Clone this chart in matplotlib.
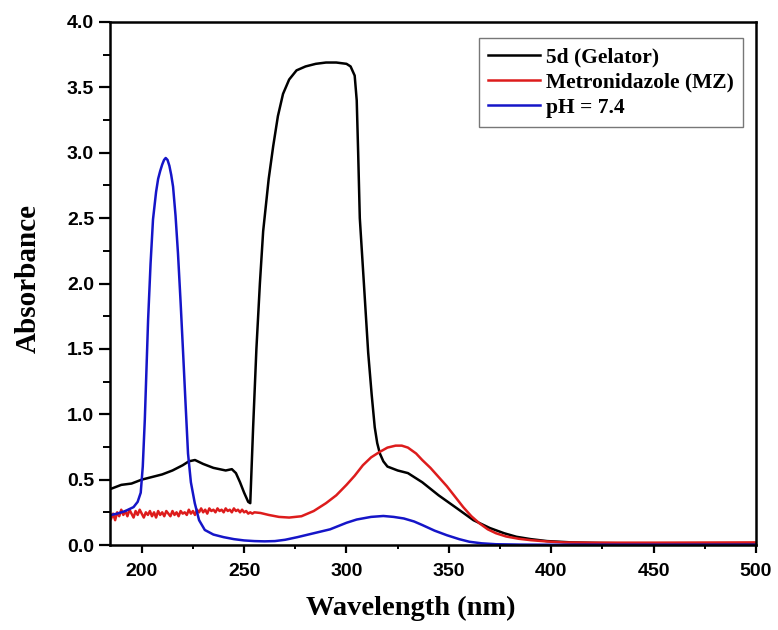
import numpy as np
import matplotlib
matplotlib.use('Agg')
import matplotlib.pyplot as plt
from matplotlib.ticker import MultipleLocator, FormatStrFormatter

# 5d (Gelator)
gel_wl = [185, 190, 195, 200, 205, 210, 215, 220, 223, 226, 230, 235, 238, 241, 244, 246, 248, 250, 252, 253,
          254.4, 256, 257.7, 259.3, 262, 264.2, 266.5, 269, 272, 275.6, 280, 285, 290, 295, 300, 302, 304, 305,
          305.7, 306.5, 308.5, 310.6, 312.3, 313.8, 315, 316.3, 318, 320, 325, 330, 337, 345, 354, 362, 370, 377,
          383, 390, 398, 410, 425, 450, 475, 500]
gel_abs = [0.43, 0.46, 0.47, 0.50, 0.52, 0.54, 0.57, 0.61, 0.64, 0.65, 0.62, 0.59, 0.58, 0.57, 0.58, 0.55, 0.48, 0.40, 0.33, 0.32,
           0.90, 1.50, 2.00, 2.40, 2.80, 3.05, 3.28, 3.45, 3.56, 3.63, 3.66, 3.68, 3.69, 3.69, 3.68, 3.66, 3.59, 3.40,
           3.00, 2.50, 2.00, 1.47, 1.15, 0.90, 0.78, 0.70, 0.64, 0.60, 0.57, 0.55, 0.48, 0.38, 0.28, 0.19, 0.13, 0.09,
           0.063, 0.045, 0.03, 0.02, 0.015, 0.01, 0.01, 0.01]

# Metronidazole (MZ)
mz_wl = [185, 186, 187, 188, 189, 190, 191, 192, 193, 194, 195, 196, 197, 198, 199, 200, 201, 202, 203, 204,
         205, 206, 207, 208, 209, 210, 211, 212, 213, 214, 215, 216, 217, 218, 219, 220, 221, 222, 223, 224,
         225, 226, 227, 228, 229, 230, 231, 232, 233, 234, 235, 236, 237, 238, 239, 240, 241, 242, 243, 244,
         245, 246, 247, 248, 249, 250, 251, 252, 253, 254, 255,
         258, 262, 267, 272, 278, 284, 290, 295, 300, 304, 308, 312, 316, 320, 324, 327, 330, 334, 337, 341,
         345, 349, 353, 357, 361, 365, 369, 373, 378, 384, 390, 398, 406, 420, 450, 500]
mz_abs = [0.20, 0.24, 0.19, 0.25, 0.22, 0.27, 0.23, 0.26, 0.22, 0.27, 0.24, 0.21, 0.26, 0.23, 0.27, 0.24, 0.21, 0.25, 0.23, 0.26,
          0.22, 0.25, 0.21, 0.26, 0.23, 0.25, 0.22, 0.26, 0.24, 0.22, 0.26, 0.23, 0.25, 0.22, 0.26, 0.24, 0.25, 0.23, 0.27, 0.24,
          0.26, 0.23, 0.27, 0.25, 0.28, 0.25, 0.27, 0.24, 0.28, 0.26, 0.27, 0.25, 0.28, 0.26, 0.27, 0.25, 0.28, 0.26, 0.27, 0.25,
          0.28, 0.26, 0.27, 0.25, 0.27, 0.25, 0.26, 0.24, 0.25, 0.24, 0.25,
          0.245, 0.23, 0.215, 0.21, 0.22, 0.26, 0.32, 0.38, 0.46, 0.53, 0.61, 0.67, 0.71, 0.745, 0.76, 0.76, 0.745, 0.70, 0.65, 0.59,
          0.52, 0.45, 0.37, 0.29, 0.22, 0.165, 0.12, 0.09, 0.065, 0.048, 0.037, 0.027, 0.02, 0.018, 0.018, 0.02]

# pH = 7.4
ph_wl = [185, 188, 192, 196, 198, 199.5, 200.5, 201.5, 203.1, 204.3, 205.5, 207, 208, 209, 210, 210.9, 211.7, 212.6, 213.5,
         214.4, 215.3, 216.5, 217.7, 219, 220.2, 221.4, 222.6, 224, 225.9, 228, 230.8, 235, 240, 245, 250, 255, 260, 265,
         270, 276, 284, 292, 300, 305, 312, 318, 323, 328, 333, 337, 343, 349, 355, 360, 366, 373, 385, 400, 500]
ph_abs = [0.23, 0.24, 0.26, 0.29, 0.33, 0.40, 0.60, 0.96, 1.72, 2.15, 2.49, 2.70, 2.80, 2.86, 2.91, 2.945, 2.96, 2.945, 2.90,
          2.83, 2.74, 2.52, 2.23, 1.85, 1.47, 1.08, 0.70, 0.48, 0.32, 0.19, 0.115, 0.08, 0.06, 0.045, 0.035, 0.03, 0.028, 0.03,
          0.04, 0.06, 0.09, 0.12, 0.17, 0.195, 0.215, 0.222, 0.215, 0.203, 0.18, 0.153, 0.11, 0.075, 0.045, 0.025, 0.013, 0.006,
          0.003, 0.002, 0.002]

fig = plt.figure(figsize=(7.78, 6.30), dpi=100)
ax = fig.add_axes([0.1414, 0.1349, 0.8303, 0.8302])

ax.plot(gel_wl, gel_abs, color='black', lw=1.8, label='5d (Gelator)')
ax.plot(mz_wl, mz_abs, color='#dd1c1c', lw=1.8, label='Metronidazole (MZ)')
ax.plot(ph_wl, ph_abs, color='#1515c8', lw=1.8, label='pH = 7.4')

ax.set_xlim(184.5, 500)
ax.set_ylim(0, 4.0)
ax.xaxis.set_major_locator(MultipleLocator(50))
ax.xaxis.set_minor_locator(MultipleLocator(25))
ax.yaxis.set_major_locator(MultipleLocator(0.5))
ax.yaxis.set_minor_locator(MultipleLocator(0.25))
ax.yaxis.set_major_formatter(FormatStrFormatter('%.1f'))

for s in ax.spines.values():
	s.set_linewidth(1.8)
ax.tick_params(which='both', direction='out', top=False, right=False)
ax.tick_params(axis='x', which='major', length=6, width=1.6, pad=7)
ax.tick_params(axis='x', which='minor', length=3, width=1.4)
ax.tick_params(axis='y', which='major', length=8, width=1.6, pad=3.5)
ax.tick_params(axis='y', which='minor', length=5, width=1.4)
for lab in ax.get_xticklabels() + ax.get_yticklabels():
	lab.set_fontfamily('Liberation Sans')
	lab.set_fontweight('bold')
	lab.set_fontsize(14)

ax.set_xlabel('Wavelength (nm)', family='Liberation Serif', fontweight='bold', fontsize=20.5, labelpad=11)
ax.xaxis.label.set_x(0.466)
ax.set_ylabel('Absorbance', family='Liberation Serif', fontweight='bold', fontsize=21, labelpad=18)
ax.yaxis.label.set_y(0.51)

leg = ax.legend(loc='upper right', bbox_to_anchor=(0.98, 0.969), borderaxespad=0, fancybox=False,
				prop={'family': 'Liberation Serif', 'weight': 'bold', 'size': 15.5},
				handlelength=2.4, handletextpad=0.25, labelspacing=0.22, borderpad=0.45)
leg.get_frame().set_edgecolor('#555555')
leg.get_frame().set_linewidth(1.0)

plt.savefig('out.png', dpi=100)
plt.close()
